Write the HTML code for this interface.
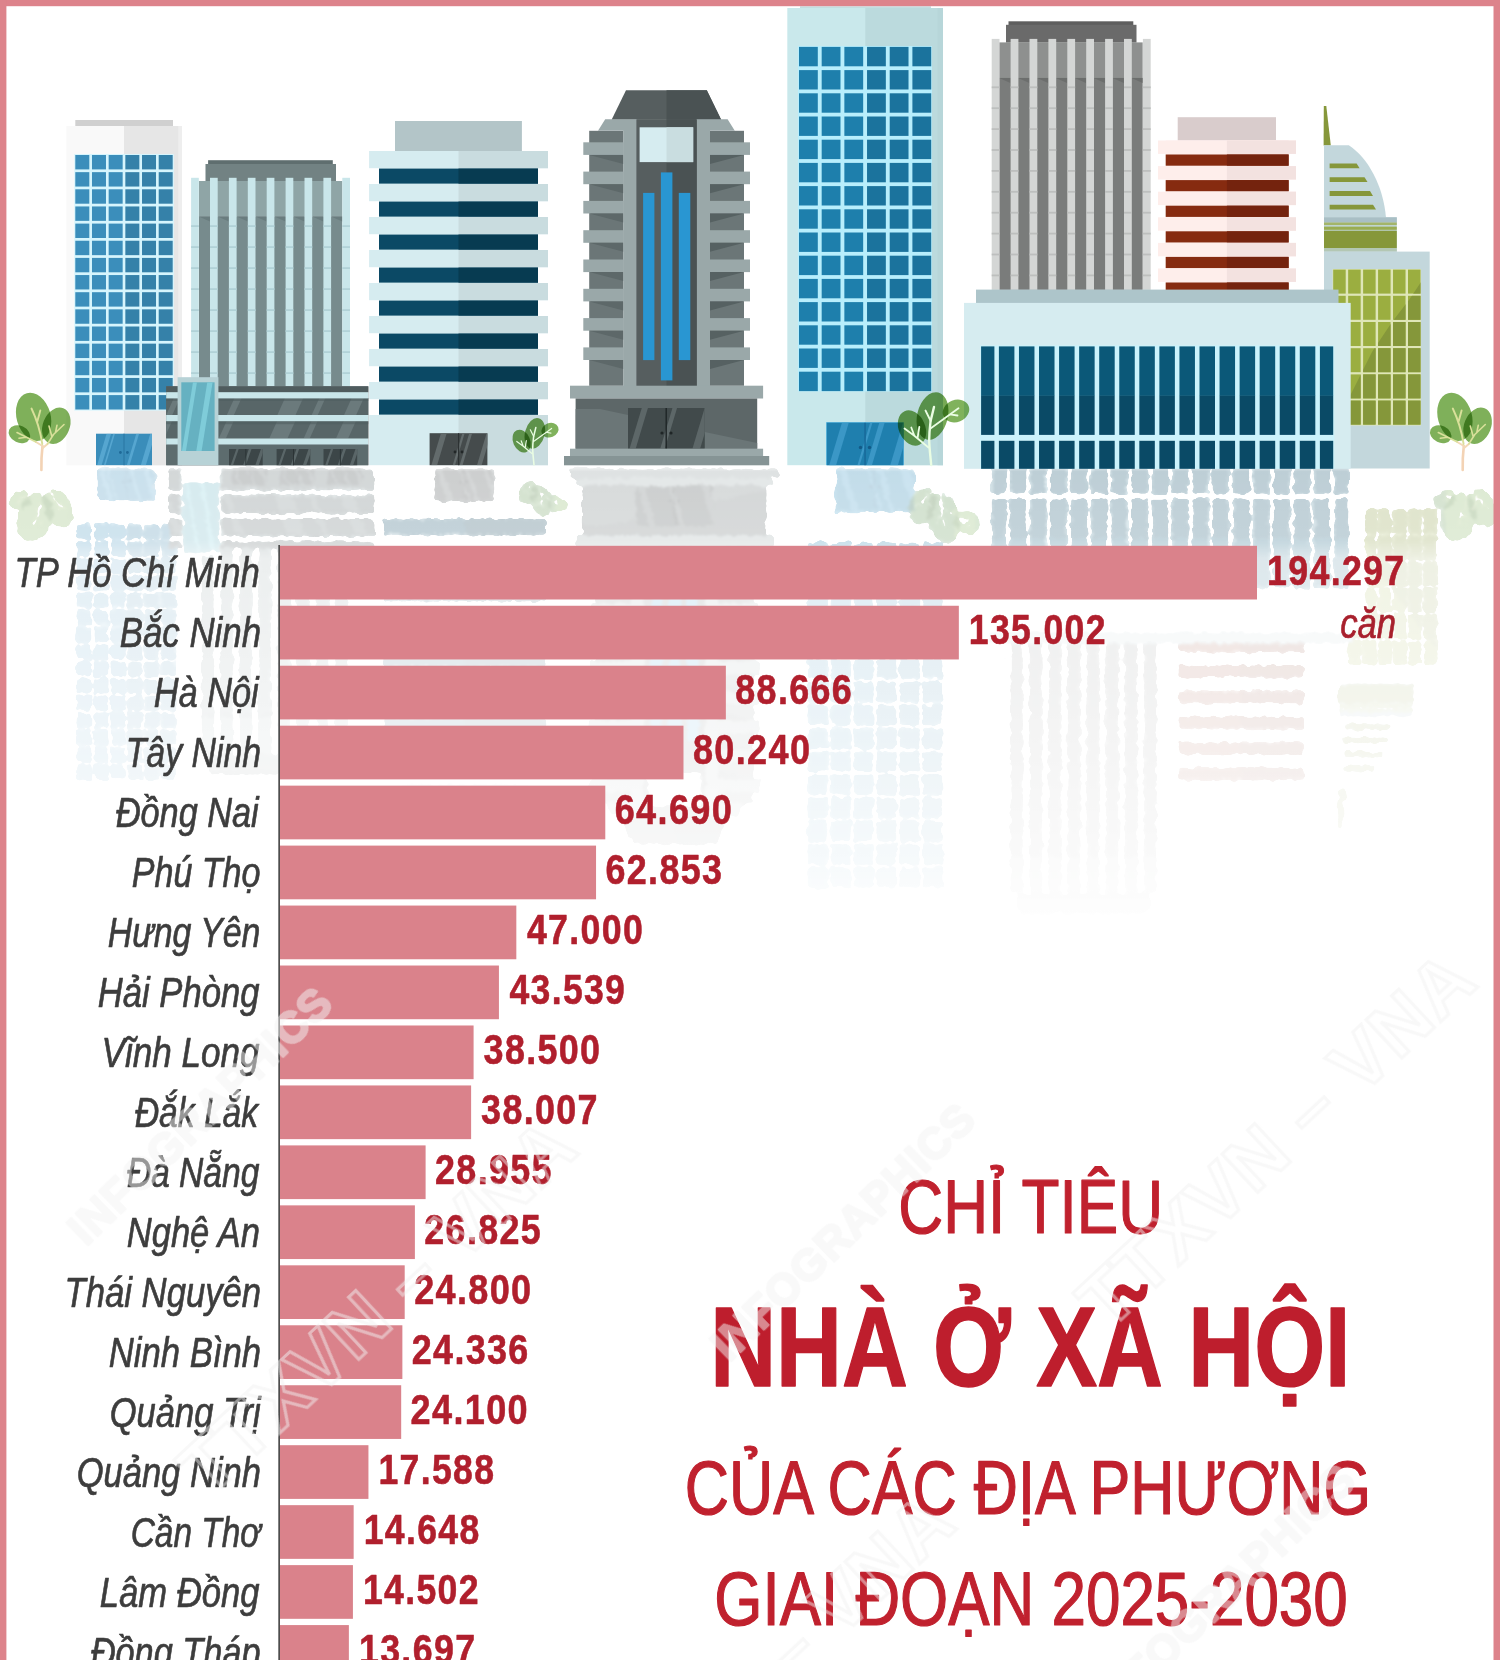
<!DOCTYPE html>
<html lang="vi">
<head>
<meta charset="utf-8">
<title>Chỉ tiêu nhà ở xã hội của các địa phương giai đoạn 2025-2030</title>
<style>
html,body{margin:0;padding:0;background:#fff;}
body{width:1500px;height:1660px;overflow:hidden;position:relative;}
svg{display:block;position:absolute;left:0;top:0;}
text{white-space:pre;}
</style>
</head>
<body>
<svg width="1500" height="1660" viewBox="0 0 1500 1660">
<defs>
<g id="treeA"><g style="mix-blend-mode:multiply" fill="#7fb05a"><ellipse cx="33.6" cy="416.8" rx="17" ry="24.6" transform="rotate(-16 33.6 416.8)"/></g><g style="mix-blend-mode:multiply" fill="#7fb05a"><ellipse cx="56.3" cy="425.8" rx="13.4" ry="18.8" transform="rotate(22 56.3 425.8)"/></g><g style="mix-blend-mode:multiply" fill="#7fb05a"><ellipse cx="19.4" cy="434.2" rx="11.2" ry="8.4" transform="rotate(25 19.4 434.2)"/></g><g fill="none" stroke-linecap="round" stroke-linejoin="round"><path d="M41.4,470 C41.2,460 41.8,452 42.5,446" stroke="#f3d3b5" stroke-width="2.6"/><path d="M42.5,446 L36,442 M42.8,448 L47.5,444" stroke="#f3d9b8" stroke-width="2"/><path d="M42.3,444 C40.5,432 37,420 31.5,408.5 M37.3,421.5 L40.3,410.5" stroke="#d9e09a" stroke-width="1.9"/><path d="M36,442 L17,432.5 M26.5,437.3 L19,438.2" stroke="#d9e09a" stroke-width="1.6"/><path d="M47.5,444 L53.5,434.5 L64,424.5 M52,437 L49,426 M55.5,432.5 L57,425.2" stroke="#d9e09a" stroke-width="1.6"/></g></g><g id="treeB"><g style="mix-blend-mode:multiply" fill="#77a955"><ellipse cx="932.5" cy="416" rx="15.3" ry="24.3" transform="rotate(14 932.5 416)"/></g><g style="mix-blend-mode:multiply" fill="#77a955"><ellipse cx="912" cy="428" rx="13.2" ry="18.4" transform="rotate(-24 912 428)"/></g><g style="mix-blend-mode:multiply" fill="#80b25c"><ellipse cx="956" cy="411" rx="13.6" ry="11" transform="rotate(-22 956 411)"/></g><g fill="none" stroke="#eafde3" stroke-linecap="round" stroke-linejoin="round"><path d="M931.2,465 C930.4,456 929.3,448 929.2,440 C929.2,432 930,426 930.6,421 L934,407" stroke-width="2.4"/><path d="M930.5,428.5 L958.5,408.3 M950,414.3 L957.5,415.5 M930.7,421 L925.5,410.5" stroke-width="1.8"/><path d="M928.5,447.5 L914,435.5 L904.5,428.5 M914.5,436 L911.3,427.5 M917.5,438.5 L919.3,427" stroke-width="1.8"/></g></g>
<g id="cityB"><g><rect x="1008.5" y="21.3" width="124.8" height="3.7" fill="#5e5e5e"/><rect x="1006" y="24.8" width="130.5" height="17.8" fill="#6a6a6a"/><rect x="999.2" y="42.4" width="143.5" height="35.7" fill="#8e908f"/><rect x="999.2" y="77.9" width="143.5" height="212" fill="#7a7c7b"/><polygon points="999.2,77.9 1010.4,77.9 1010.4,83" fill="#6c6e6d"/><polygon points="1018.1,77.9 1029.3,77.9 1029.3,83" fill="#6c6e6d"/><polygon points="1037,77.9 1048.2,77.9 1048.2,83" fill="#6c6e6d"/><polygon points="1055.9,77.9 1067.1,77.9 1067.1,83" fill="#6c6e6d"/><polygon points="1074.8,77.9 1086,77.9 1086,83" fill="#6c6e6d"/><polygon points="1093.7,77.9 1104.9,77.9 1104.9,83" fill="#6c6e6d"/><polygon points="1112.6,77.9 1123.8,77.9 1123.8,83" fill="#6c6e6d"/><polygon points="1131.5,77.9 1142.7,77.9 1142.7,83" fill="#6c6e6d"/><rect x="991.7" y="38.9" width="7.8" height="251" fill="#d4d6d5"/><rect x="991.7" y="86.4" width="7.8" height="1.8" fill="#bdbfbe"/><rect x="991.7" y="107.3" width="7.8" height="1.8" fill="#bdbfbe"/><rect x="991.7" y="128.2" width="7.8" height="1.8" fill="#bdbfbe"/><rect x="991.7" y="149.1" width="7.8" height="1.8" fill="#bdbfbe"/><rect x="991.7" y="170" width="7.8" height="1.8" fill="#bdbfbe"/><rect x="991.7" y="190.9" width="7.8" height="1.8" fill="#bdbfbe"/><rect x="991.7" y="211.8" width="7.8" height="1.8" fill="#bdbfbe"/><rect x="991.7" y="232.7" width="7.8" height="1.8" fill="#bdbfbe"/><rect x="991.7" y="253.6" width="7.8" height="1.8" fill="#bdbfbe"/><rect x="991.7" y="274.5" width="7.8" height="1.8" fill="#bdbfbe"/><rect x="1010.6" y="38.9" width="7.8" height="251" fill="#d4d6d5"/><rect x="1010.6" y="86.4" width="7.8" height="1.8" fill="#bdbfbe"/><rect x="1010.6" y="107.3" width="7.8" height="1.8" fill="#bdbfbe"/><rect x="1010.6" y="128.2" width="7.8" height="1.8" fill="#bdbfbe"/><rect x="1010.6" y="149.1" width="7.8" height="1.8" fill="#bdbfbe"/><rect x="1010.6" y="170" width="7.8" height="1.8" fill="#bdbfbe"/><rect x="1010.6" y="190.9" width="7.8" height="1.8" fill="#bdbfbe"/><rect x="1010.6" y="211.8" width="7.8" height="1.8" fill="#bdbfbe"/><rect x="1010.6" y="232.7" width="7.8" height="1.8" fill="#bdbfbe"/><rect x="1010.6" y="253.6" width="7.8" height="1.8" fill="#bdbfbe"/><rect x="1010.6" y="274.5" width="7.8" height="1.8" fill="#bdbfbe"/><rect x="1029.5" y="38.9" width="7.8" height="251" fill="#d4d6d5"/><rect x="1029.5" y="86.4" width="7.8" height="1.8" fill="#bdbfbe"/><rect x="1029.5" y="107.3" width="7.8" height="1.8" fill="#bdbfbe"/><rect x="1029.5" y="128.2" width="7.8" height="1.8" fill="#bdbfbe"/><rect x="1029.5" y="149.1" width="7.8" height="1.8" fill="#bdbfbe"/><rect x="1029.5" y="170" width="7.8" height="1.8" fill="#bdbfbe"/><rect x="1029.5" y="190.9" width="7.8" height="1.8" fill="#bdbfbe"/><rect x="1029.5" y="211.8" width="7.8" height="1.8" fill="#bdbfbe"/><rect x="1029.5" y="232.7" width="7.8" height="1.8" fill="#bdbfbe"/><rect x="1029.5" y="253.6" width="7.8" height="1.8" fill="#bdbfbe"/><rect x="1029.5" y="274.5" width="7.8" height="1.8" fill="#bdbfbe"/><rect x="1048.4" y="38.9" width="7.8" height="251" fill="#d4d6d5"/><rect x="1048.4" y="86.4" width="7.8" height="1.8" fill="#bdbfbe"/><rect x="1048.4" y="107.3" width="7.8" height="1.8" fill="#bdbfbe"/><rect x="1048.4" y="128.2" width="7.8" height="1.8" fill="#bdbfbe"/><rect x="1048.4" y="149.1" width="7.8" height="1.8" fill="#bdbfbe"/><rect x="1048.4" y="170" width="7.8" height="1.8" fill="#bdbfbe"/><rect x="1048.4" y="190.9" width="7.8" height="1.8" fill="#bdbfbe"/><rect x="1048.4" y="211.8" width="7.8" height="1.8" fill="#bdbfbe"/><rect x="1048.4" y="232.7" width="7.8" height="1.8" fill="#bdbfbe"/><rect x="1048.4" y="253.6" width="7.8" height="1.8" fill="#bdbfbe"/><rect x="1048.4" y="274.5" width="7.8" height="1.8" fill="#bdbfbe"/><rect x="1067.3" y="38.9" width="7.8" height="251" fill="#d4d6d5"/><rect x="1067.3" y="86.4" width="7.8" height="1.8" fill="#bdbfbe"/><rect x="1067.3" y="107.3" width="7.8" height="1.8" fill="#bdbfbe"/><rect x="1067.3" y="128.2" width="7.8" height="1.8" fill="#bdbfbe"/><rect x="1067.3" y="149.1" width="7.8" height="1.8" fill="#bdbfbe"/><rect x="1067.3" y="170" width="7.8" height="1.8" fill="#bdbfbe"/><rect x="1067.3" y="190.9" width="7.8" height="1.8" fill="#bdbfbe"/><rect x="1067.3" y="211.8" width="7.8" height="1.8" fill="#bdbfbe"/><rect x="1067.3" y="232.7" width="7.8" height="1.8" fill="#bdbfbe"/><rect x="1067.3" y="253.6" width="7.8" height="1.8" fill="#bdbfbe"/><rect x="1067.3" y="274.5" width="7.8" height="1.8" fill="#bdbfbe"/><rect x="1086.2" y="38.9" width="7.8" height="251" fill="#d4d6d5"/><rect x="1086.2" y="86.4" width="7.8" height="1.8" fill="#bdbfbe"/><rect x="1086.2" y="107.3" width="7.8" height="1.8" fill="#bdbfbe"/><rect x="1086.2" y="128.2" width="7.8" height="1.8" fill="#bdbfbe"/><rect x="1086.2" y="149.1" width="7.8" height="1.8" fill="#bdbfbe"/><rect x="1086.2" y="170" width="7.8" height="1.8" fill="#bdbfbe"/><rect x="1086.2" y="190.9" width="7.8" height="1.8" fill="#bdbfbe"/><rect x="1086.2" y="211.8" width="7.8" height="1.8" fill="#bdbfbe"/><rect x="1086.2" y="232.7" width="7.8" height="1.8" fill="#bdbfbe"/><rect x="1086.2" y="253.6" width="7.8" height="1.8" fill="#bdbfbe"/><rect x="1086.2" y="274.5" width="7.8" height="1.8" fill="#bdbfbe"/><rect x="1105.1" y="38.9" width="7.8" height="251" fill="#d4d6d5"/><rect x="1105.1" y="86.4" width="7.8" height="1.8" fill="#bdbfbe"/><rect x="1105.1" y="107.3" width="7.8" height="1.8" fill="#bdbfbe"/><rect x="1105.1" y="128.2" width="7.8" height="1.8" fill="#bdbfbe"/><rect x="1105.1" y="149.1" width="7.8" height="1.8" fill="#bdbfbe"/><rect x="1105.1" y="170" width="7.8" height="1.8" fill="#bdbfbe"/><rect x="1105.1" y="190.9" width="7.8" height="1.8" fill="#bdbfbe"/><rect x="1105.1" y="211.8" width="7.8" height="1.8" fill="#bdbfbe"/><rect x="1105.1" y="232.7" width="7.8" height="1.8" fill="#bdbfbe"/><rect x="1105.1" y="253.6" width="7.8" height="1.8" fill="#bdbfbe"/><rect x="1105.1" y="274.5" width="7.8" height="1.8" fill="#bdbfbe"/><rect x="1124" y="38.9" width="7.8" height="251" fill="#d4d6d5"/><rect x="1124" y="86.4" width="7.8" height="1.8" fill="#bdbfbe"/><rect x="1124" y="107.3" width="7.8" height="1.8" fill="#bdbfbe"/><rect x="1124" y="128.2" width="7.8" height="1.8" fill="#bdbfbe"/><rect x="1124" y="149.1" width="7.8" height="1.8" fill="#bdbfbe"/><rect x="1124" y="170" width="7.8" height="1.8" fill="#bdbfbe"/><rect x="1124" y="190.9" width="7.8" height="1.8" fill="#bdbfbe"/><rect x="1124" y="211.8" width="7.8" height="1.8" fill="#bdbfbe"/><rect x="1124" y="232.7" width="7.8" height="1.8" fill="#bdbfbe"/><rect x="1124" y="253.6" width="7.8" height="1.8" fill="#bdbfbe"/><rect x="1124" y="274.5" width="7.8" height="1.8" fill="#bdbfbe"/><rect x="1142.9" y="38.9" width="7.8" height="251" fill="#d4d6d5"/><rect x="1142.9" y="86.4" width="7.8" height="1.8" fill="#bdbfbe"/><rect x="1142.9" y="107.3" width="7.8" height="1.8" fill="#bdbfbe"/><rect x="1142.9" y="128.2" width="7.8" height="1.8" fill="#bdbfbe"/><rect x="1142.9" y="149.1" width="7.8" height="1.8" fill="#bdbfbe"/><rect x="1142.9" y="170" width="7.8" height="1.8" fill="#bdbfbe"/><rect x="1142.9" y="190.9" width="7.8" height="1.8" fill="#bdbfbe"/><rect x="1142.9" y="211.8" width="7.8" height="1.8" fill="#bdbfbe"/><rect x="1142.9" y="232.7" width="7.8" height="1.8" fill="#bdbfbe"/><rect x="1142.9" y="253.6" width="7.8" height="1.8" fill="#bdbfbe"/><rect x="1142.9" y="274.5" width="7.8" height="1.8" fill="#bdbfbe"/></g><g><rect x="1177.7" y="117.2" width="98.3" height="23.5" fill="#d9cccc"/><rect x="1165.7" y="140.5" width="122.9" height="150" fill="#fff0ed"/><rect x="1226.9" y="140.5" width="61.7" height="150" fill="#f4e3e1"/><rect x="1158" y="140.5" width="138" height="13.4" fill="#feeeeb"/><rect x="1226.9" y="140.5" width="69.1" height="13.4" fill="#f3e2e0"/><rect x="1165.7" y="154.5" width="122.9" height="11.2" fill="#862b10"/><rect x="1226.9" y="154.5" width="61.7" height="11.2" fill="#74230e"/><rect x="1158" y="166.1" width="138" height="13.4" fill="#feeeeb"/><rect x="1226.9" y="166.1" width="69.1" height="13.4" fill="#f3e2e0"/><rect x="1165.7" y="180.1" width="122.9" height="11.2" fill="#862b10"/><rect x="1226.9" y="180.1" width="61.7" height="11.2" fill="#74230e"/><rect x="1158" y="191.7" width="138" height="13.4" fill="#feeeeb"/><rect x="1226.9" y="191.7" width="69.1" height="13.4" fill="#f3e2e0"/><rect x="1165.7" y="205.7" width="122.9" height="11.2" fill="#862b10"/><rect x="1226.9" y="205.7" width="61.7" height="11.2" fill="#74230e"/><rect x="1158" y="217.3" width="138" height="13.4" fill="#feeeeb"/><rect x="1226.9" y="217.3" width="69.1" height="13.4" fill="#f3e2e0"/><rect x="1165.7" y="231.3" width="122.9" height="11.2" fill="#862b10"/><rect x="1226.9" y="231.3" width="61.7" height="11.2" fill="#74230e"/><rect x="1158" y="242.9" width="138" height="13.4" fill="#feeeeb"/><rect x="1226.9" y="242.9" width="69.1" height="13.4" fill="#f3e2e0"/><rect x="1165.7" y="256.9" width="122.9" height="11.2" fill="#862b10"/><rect x="1226.9" y="256.9" width="61.7" height="11.2" fill="#74230e"/><rect x="1158" y="268.5" width="138" height="13.4" fill="#feeeeb"/><rect x="1226.9" y="268.5" width="69.1" height="13.4" fill="#f3e2e0"/><rect x="1165.7" y="282.5" width="122.9" height="11.2" fill="#862b10"/><rect x="1226.9" y="282.5" width="61.7" height="11.2" fill="#74230e"/></g></g><g id="city"><g><rect x="75.3" y="120" width="97.7" height="6.2" fill="#d0d0d0"/><rect x="66.3" y="126" width="115.7" height="339.3" fill="#f9f9f9"/><rect x="124" y="126" width="58" height="339.3" fill="#e6e6e6"/><rect x="178.2" y="126" width="3.8" height="339.3" fill="#eeeeee"/><rect x="74.3" y="154" width="99.6" height="256.6" fill="#d6f5fd"/><rect x="75.3" y="155" width="14" height="14.4" fill="#3b8ebb"/><rect x="91.98" y="155" width="14" height="14.4" fill="#3b8ebb"/><rect x="108.66" y="155" width="14" height="14.4" fill="#3b8ebb"/><rect x="125.34" y="155" width="14" height="14.4" fill="#3581a9"/><rect x="142.02" y="155" width="14" height="14.4" fill="#3581a9"/><rect x="158.7" y="155" width="14" height="14.4" fill="#3581a9"/><rect x="75.3" y="172.15" width="14" height="14.4" fill="#3b8ebb"/><rect x="91.98" y="172.15" width="14" height="14.4" fill="#3b8ebb"/><rect x="108.66" y="172.15" width="14" height="14.4" fill="#3b8ebb"/><rect x="125.34" y="172.15" width="14" height="14.4" fill="#3581a9"/><rect x="142.02" y="172.15" width="14" height="14.4" fill="#3581a9"/><rect x="158.7" y="172.15" width="14" height="14.4" fill="#3581a9"/><rect x="75.3" y="189.3" width="14" height="14.4" fill="#3b8ebb"/><rect x="91.98" y="189.3" width="14" height="14.4" fill="#3b8ebb"/><rect x="108.66" y="189.3" width="14" height="14.4" fill="#3b8ebb"/><rect x="125.34" y="189.3" width="14" height="14.4" fill="#3581a9"/><rect x="142.02" y="189.3" width="14" height="14.4" fill="#3581a9"/><rect x="158.7" y="189.3" width="14" height="14.4" fill="#3581a9"/><rect x="75.3" y="206.45" width="14" height="14.4" fill="#3b8ebb"/><rect x="91.98" y="206.45" width="14" height="14.4" fill="#3b8ebb"/><rect x="108.66" y="206.45" width="14" height="14.4" fill="#3b8ebb"/><rect x="125.34" y="206.45" width="14" height="14.4" fill="#3581a9"/><rect x="142.02" y="206.45" width="14" height="14.4" fill="#3581a9"/><rect x="158.7" y="206.45" width="14" height="14.4" fill="#3581a9"/><rect x="75.3" y="223.6" width="14" height="14.4" fill="#3b8ebb"/><rect x="91.98" y="223.6" width="14" height="14.4" fill="#3b8ebb"/><rect x="108.66" y="223.6" width="14" height="14.4" fill="#3b8ebb"/><rect x="125.34" y="223.6" width="14" height="14.4" fill="#3581a9"/><rect x="142.02" y="223.6" width="14" height="14.4" fill="#3581a9"/><rect x="158.7" y="223.6" width="14" height="14.4" fill="#3581a9"/><rect x="75.3" y="240.75" width="14" height="14.4" fill="#3b8ebb"/><rect x="91.98" y="240.75" width="14" height="14.4" fill="#3b8ebb"/><rect x="108.66" y="240.75" width="14" height="14.4" fill="#3b8ebb"/><rect x="125.34" y="240.75" width="14" height="14.4" fill="#3581a9"/><rect x="142.02" y="240.75" width="14" height="14.4" fill="#3581a9"/><rect x="158.7" y="240.75" width="14" height="14.4" fill="#3581a9"/><rect x="75.3" y="257.9" width="14" height="14.4" fill="#3b8ebb"/><rect x="91.98" y="257.9" width="14" height="14.4" fill="#3b8ebb"/><rect x="108.66" y="257.9" width="14" height="14.4" fill="#3b8ebb"/><rect x="125.34" y="257.9" width="14" height="14.4" fill="#3581a9"/><rect x="142.02" y="257.9" width="14" height="14.4" fill="#3581a9"/><rect x="158.7" y="257.9" width="14" height="14.4" fill="#3581a9"/><rect x="75.3" y="275.05" width="14" height="14.4" fill="#3b8ebb"/><rect x="91.98" y="275.05" width="14" height="14.4" fill="#3b8ebb"/><rect x="108.66" y="275.05" width="14" height="14.4" fill="#3b8ebb"/><rect x="125.34" y="275.05" width="14" height="14.4" fill="#3581a9"/><rect x="142.02" y="275.05" width="14" height="14.4" fill="#3581a9"/><rect x="158.7" y="275.05" width="14" height="14.4" fill="#3581a9"/><rect x="75.3" y="292.2" width="14" height="14.4" fill="#3b8ebb"/><rect x="91.98" y="292.2" width="14" height="14.4" fill="#3b8ebb"/><rect x="108.66" y="292.2" width="14" height="14.4" fill="#3b8ebb"/><rect x="125.34" y="292.2" width="14" height="14.4" fill="#3581a9"/><rect x="142.02" y="292.2" width="14" height="14.4" fill="#3581a9"/><rect x="158.7" y="292.2" width="14" height="14.4" fill="#3581a9"/><rect x="75.3" y="309.35" width="14" height="14.4" fill="#3b8ebb"/><rect x="91.98" y="309.35" width="14" height="14.4" fill="#3b8ebb"/><rect x="108.66" y="309.35" width="14" height="14.4" fill="#3b8ebb"/><rect x="125.34" y="309.35" width="14" height="14.4" fill="#3581a9"/><rect x="142.02" y="309.35" width="14" height="14.4" fill="#3581a9"/><rect x="158.7" y="309.35" width="14" height="14.4" fill="#3581a9"/><rect x="75.3" y="326.5" width="14" height="14.4" fill="#3b8ebb"/><rect x="91.98" y="326.5" width="14" height="14.4" fill="#3b8ebb"/><rect x="108.66" y="326.5" width="14" height="14.4" fill="#3b8ebb"/><rect x="125.34" y="326.5" width="14" height="14.4" fill="#3581a9"/><rect x="142.02" y="326.5" width="14" height="14.4" fill="#3581a9"/><rect x="158.7" y="326.5" width="14" height="14.4" fill="#3581a9"/><rect x="75.3" y="343.65" width="14" height="14.4" fill="#3b8ebb"/><rect x="91.98" y="343.65" width="14" height="14.4" fill="#3b8ebb"/><rect x="108.66" y="343.65" width="14" height="14.4" fill="#3b8ebb"/><rect x="125.34" y="343.65" width="14" height="14.4" fill="#3581a9"/><rect x="142.02" y="343.65" width="14" height="14.4" fill="#3581a9"/><rect x="158.7" y="343.65" width="14" height="14.4" fill="#3581a9"/><rect x="75.3" y="360.8" width="14" height="14.4" fill="#3b8ebb"/><rect x="91.98" y="360.8" width="14" height="14.4" fill="#3b8ebb"/><rect x="108.66" y="360.8" width="14" height="14.4" fill="#3b8ebb"/><rect x="125.34" y="360.8" width="14" height="14.4" fill="#3581a9"/><rect x="142.02" y="360.8" width="14" height="14.4" fill="#3581a9"/><rect x="158.7" y="360.8" width="14" height="14.4" fill="#3581a9"/><rect x="75.3" y="377.95" width="14" height="14.4" fill="#3b8ebb"/><rect x="91.98" y="377.95" width="14" height="14.4" fill="#3b8ebb"/><rect x="108.66" y="377.95" width="14" height="14.4" fill="#3b8ebb"/><rect x="125.34" y="377.95" width="14" height="14.4" fill="#3581a9"/><rect x="142.02" y="377.95" width="14" height="14.4" fill="#3581a9"/><rect x="158.7" y="377.95" width="14" height="14.4" fill="#3581a9"/><rect x="75.3" y="395.1" width="14" height="14.4" fill="#3b8ebb"/><rect x="91.98" y="395.1" width="14" height="14.4" fill="#3b8ebb"/><rect x="108.66" y="395.1" width="14" height="14.4" fill="#3b8ebb"/><rect x="125.34" y="395.1" width="14" height="14.4" fill="#3581a9"/><rect x="142.02" y="395.1" width="14" height="14.4" fill="#3581a9"/><rect x="158.7" y="395.1" width="14" height="14.4" fill="#3581a9"/><clipPath id="gc1"><rect x="96" y="433.7" width="56" height="31.5"/></clipPath><rect x="96" y="433.7" width="56" height="31.5" fill="#3a8dba"/><g clip-path="url(#gc1)" fill="#56a6d0" opacity="1"><polygon points="97.12,465.2 101.6,465.2 111.05,433.7 106.57,433.7"/><polygon points="103.84,465.2 105.52,465.2 114.97,433.7 113.29,433.7"/><polygon points="126.8,465.2 129.6,465.2 139.05,433.7 136.25,433.7"/><polygon points="140.8,465.2 145.84,465.2 155.29,433.7 150.25,433.7"/></g><rect x="123.4" y="433.7" width="1.2" height="31.5" fill="#2c79a6"/><circle cx="120.4" cy="452.5" r="1.4" fill="#1f6a98"/><circle cx="127.4" cy="452.5" r="1.4" fill="#1f6a98"/></g><g><rect x="208.1" y="160.2" width="124.7" height="4.2" fill="#5f6e6f"/><rect x="205.5" y="164" width="130.5" height="17.2" fill="#728283"/><rect x="198.9" y="181" width="143.4" height="35.8" fill="#8fa5a6"/><rect x="198.9" y="216.6" width="143.4" height="170" fill="#778b8d"/><polygon points="198.7,216.6 210,216.6 210,221.5" fill="#6a7d7f"/><polygon points="217.6,216.6 228.9,216.6 228.9,221.5" fill="#6a7d7f"/><polygon points="236.5,216.6 247.8,216.6 247.8,221.5" fill="#6a7d7f"/><polygon points="255.4,216.6 266.7,216.6 266.7,221.5" fill="#6a7d7f"/><polygon points="274.3,216.6 285.6,216.6 285.6,221.5" fill="#6a7d7f"/><polygon points="293.2,216.6 304.5,216.6 304.5,221.5" fill="#6a7d7f"/><polygon points="312.1,216.6 323.4,216.6 323.4,221.5" fill="#6a7d7f"/><polygon points="331,216.6 342.3,216.6 342.3,221.5" fill="#6a7d7f"/><rect x="191.1" y="177.8" width="7.7" height="208.6" fill="#c9e6ea"/><rect x="191.1" y="225.2" width="7.7" height="1.8" fill="#b1d2d7"/><rect x="191.1" y="246.2" width="7.7" height="1.8" fill="#b1d2d7"/><rect x="191.1" y="267.2" width="7.7" height="1.8" fill="#b1d2d7"/><rect x="191.1" y="288.2" width="7.7" height="1.8" fill="#b1d2d7"/><rect x="191.1" y="309.2" width="7.7" height="1.8" fill="#b1d2d7"/><rect x="191.1" y="330.2" width="7.7" height="1.8" fill="#b1d2d7"/><rect x="191.1" y="351.2" width="7.7" height="1.8" fill="#b1d2d7"/><rect x="191.1" y="372.2" width="7.7" height="1.8" fill="#b1d2d7"/><rect x="210" y="177.8" width="7.7" height="208.6" fill="#c9e6ea"/><rect x="210" y="225.2" width="7.7" height="1.8" fill="#b1d2d7"/><rect x="210" y="246.2" width="7.7" height="1.8" fill="#b1d2d7"/><rect x="210" y="267.2" width="7.7" height="1.8" fill="#b1d2d7"/><rect x="210" y="288.2" width="7.7" height="1.8" fill="#b1d2d7"/><rect x="210" y="309.2" width="7.7" height="1.8" fill="#b1d2d7"/><rect x="210" y="330.2" width="7.7" height="1.8" fill="#b1d2d7"/><rect x="210" y="351.2" width="7.7" height="1.8" fill="#b1d2d7"/><rect x="210" y="372.2" width="7.7" height="1.8" fill="#b1d2d7"/><rect x="228.9" y="177.8" width="7.7" height="208.6" fill="#c9e6ea"/><rect x="228.9" y="225.2" width="7.7" height="1.8" fill="#b1d2d7"/><rect x="228.9" y="246.2" width="7.7" height="1.8" fill="#b1d2d7"/><rect x="228.9" y="267.2" width="7.7" height="1.8" fill="#b1d2d7"/><rect x="228.9" y="288.2" width="7.7" height="1.8" fill="#b1d2d7"/><rect x="228.9" y="309.2" width="7.7" height="1.8" fill="#b1d2d7"/><rect x="228.9" y="330.2" width="7.7" height="1.8" fill="#b1d2d7"/><rect x="228.9" y="351.2" width="7.7" height="1.8" fill="#b1d2d7"/><rect x="228.9" y="372.2" width="7.7" height="1.8" fill="#b1d2d7"/><rect x="247.8" y="177.8" width="7.7" height="208.6" fill="#c9e6ea"/><rect x="247.8" y="225.2" width="7.7" height="1.8" fill="#b1d2d7"/><rect x="247.8" y="246.2" width="7.7" height="1.8" fill="#b1d2d7"/><rect x="247.8" y="267.2" width="7.7" height="1.8" fill="#b1d2d7"/><rect x="247.8" y="288.2" width="7.7" height="1.8" fill="#b1d2d7"/><rect x="247.8" y="309.2" width="7.7" height="1.8" fill="#b1d2d7"/><rect x="247.8" y="330.2" width="7.7" height="1.8" fill="#b1d2d7"/><rect x="247.8" y="351.2" width="7.7" height="1.8" fill="#b1d2d7"/><rect x="247.8" y="372.2" width="7.7" height="1.8" fill="#b1d2d7"/><rect x="266.7" y="177.8" width="7.7" height="208.6" fill="#c9e6ea"/><rect x="266.7" y="225.2" width="7.7" height="1.8" fill="#b1d2d7"/><rect x="266.7" y="246.2" width="7.7" height="1.8" fill="#b1d2d7"/><rect x="266.7" y="267.2" width="7.7" height="1.8" fill="#b1d2d7"/><rect x="266.7" y="288.2" width="7.7" height="1.8" fill="#b1d2d7"/><rect x="266.7" y="309.2" width="7.7" height="1.8" fill="#b1d2d7"/><rect x="266.7" y="330.2" width="7.7" height="1.8" fill="#b1d2d7"/><rect x="266.7" y="351.2" width="7.7" height="1.8" fill="#b1d2d7"/><rect x="266.7" y="372.2" width="7.7" height="1.8" fill="#b1d2d7"/><rect x="285.6" y="177.8" width="7.7" height="208.6" fill="#c9e6ea"/><rect x="285.6" y="225.2" width="7.7" height="1.8" fill="#b1d2d7"/><rect x="285.6" y="246.2" width="7.7" height="1.8" fill="#b1d2d7"/><rect x="285.6" y="267.2" width="7.7" height="1.8" fill="#b1d2d7"/><rect x="285.6" y="288.2" width="7.7" height="1.8" fill="#b1d2d7"/><rect x="285.6" y="309.2" width="7.7" height="1.8" fill="#b1d2d7"/><rect x="285.6" y="330.2" width="7.7" height="1.8" fill="#b1d2d7"/><rect x="285.6" y="351.2" width="7.7" height="1.8" fill="#b1d2d7"/><rect x="285.6" y="372.2" width="7.7" height="1.8" fill="#b1d2d7"/><rect x="304.5" y="177.8" width="7.7" height="208.6" fill="#c9e6ea"/><rect x="304.5" y="225.2" width="7.7" height="1.8" fill="#b1d2d7"/><rect x="304.5" y="246.2" width="7.7" height="1.8" fill="#b1d2d7"/><rect x="304.5" y="267.2" width="7.7" height="1.8" fill="#b1d2d7"/><rect x="304.5" y="288.2" width="7.7" height="1.8" fill="#b1d2d7"/><rect x="304.5" y="309.2" width="7.7" height="1.8" fill="#b1d2d7"/><rect x="304.5" y="330.2" width="7.7" height="1.8" fill="#b1d2d7"/><rect x="304.5" y="351.2" width="7.7" height="1.8" fill="#b1d2d7"/><rect x="304.5" y="372.2" width="7.7" height="1.8" fill="#b1d2d7"/><rect x="323.4" y="177.8" width="7.7" height="208.6" fill="#c9e6ea"/><rect x="323.4" y="225.2" width="7.7" height="1.8" fill="#b1d2d7"/><rect x="323.4" y="246.2" width="7.7" height="1.8" fill="#b1d2d7"/><rect x="323.4" y="267.2" width="7.7" height="1.8" fill="#b1d2d7"/><rect x="323.4" y="288.2" width="7.7" height="1.8" fill="#b1d2d7"/><rect x="323.4" y="309.2" width="7.7" height="1.8" fill="#b1d2d7"/><rect x="323.4" y="330.2" width="7.7" height="1.8" fill="#b1d2d7"/><rect x="323.4" y="351.2" width="7.7" height="1.8" fill="#b1d2d7"/><rect x="323.4" y="372.2" width="7.7" height="1.8" fill="#b1d2d7"/><rect x="342.3" y="177.8" width="7.7" height="208.6" fill="#c9e6ea"/><rect x="342.3" y="225.2" width="7.7" height="1.8" fill="#b1d2d7"/><rect x="342.3" y="246.2" width="7.7" height="1.8" fill="#b1d2d7"/><rect x="342.3" y="267.2" width="7.7" height="1.8" fill="#b1d2d7"/><rect x="342.3" y="288.2" width="7.7" height="1.8" fill="#b1d2d7"/><rect x="342.3" y="309.2" width="7.7" height="1.8" fill="#b1d2d7"/><rect x="342.3" y="330.2" width="7.7" height="1.8" fill="#b1d2d7"/><rect x="342.3" y="351.2" width="7.7" height="1.8" fill="#b1d2d7"/><rect x="342.3" y="372.2" width="7.7" height="1.8" fill="#b1d2d7"/></g><g><rect x="166.2" y="386.3" width="202.1" height="78.9" fill="#5d6c6e"/><rect x="166.2" y="386.3" width="202.1" height="6" fill="#4f5c5e"/><clipPath id="gc2"><rect x="166.2" y="398" width="202.1" height="17"/></clipPath><rect x="166.2" y="398" width="202.1" height="17" fill="#586668"/><g clip-path="url(#gc2)" fill="#6b7a7c" opacity="1"><polygon points="166.2,415 172.26,415 179.91,398 173.85,398"/><polygon points="226.83,415 233.9,415 241.55,398 234.48,398"/><polygon points="277.36,415 295.54,415 303.19,398 285,398"/><polygon points="311.71,415 317.77,415 325.42,398 319.36,398"/><polygon points="344.05,415 356.17,415 363.82,398 351.7,398"/></g><rect x="166.2" y="398" width="202.1" height="3" fill="#4f5c5e" opacity="0.55"/><clipPath id="gc3"><rect x="166.2" y="421.2" width="202.1" height="17.3"/></clipPath><rect x="166.2" y="421.2" width="202.1" height="17.3" fill="#586668"/><g clip-path="url(#gc3)" fill="#6b7a7c" opacity="1"><polygon points="158.12,438.5 164.18,438.5 171.96,421.2 165.9,421.2"/><polygon points="218.75,438.5 225.82,438.5 233.6,421.2 226.53,421.2"/><polygon points="269.27,438.5 287.46,438.5 295.25,421.2 277.06,421.2"/><polygon points="303.63,438.5 309.69,438.5 317.48,421.2 311.41,421.2"/><polygon points="335.96,438.5 348.09,438.5 355.87,421.2 343.75,421.2"/></g><rect x="166.2" y="421.2" width="202.1" height="3" fill="#4f5c5e" opacity="0.55"/><rect x="166.2" y="392.2" width="202.1" height="6.2" fill="#c9e6ea"/><rect x="166.2" y="415" width="202.1" height="6.2" fill="#c9e6ea"/><rect x="166.2" y="438.5" width="202.1" height="6.2" fill="#c9e6ea"/><rect x="166.2" y="444.7" width="202.1" height="20.5" fill="#5d6c6e"/><clipPath id="gc4"><rect x="229" y="449" width="33.7" height="16.2"/></clipPath><rect x="229" y="449" width="33.7" height="16.2" fill="#3c4648"/><g clip-path="url(#gc4)" fill="#5a6668" opacity="1"><polygon points="230.69,465.2 233.04,465.2 238.71,449 236.35,449"/><polygon points="243.15,465.2 245.85,465.2 251.52,449 248.82,449"/><polygon points="255.29,465.2 258.66,465.2 264.33,449 260.96,449"/></g><rect x="245.4" y="449" width="0.9" height="16.2" fill="#2a3234"/><clipPath id="gc5"><rect x="276.6" y="449" width="33.7" height="16.2"/></clipPath><rect x="276.6" y="449" width="33.7" height="16.2" fill="#3c4648"/><g clip-path="url(#gc5)" fill="#5a6668" opacity="1"><polygon points="278.29,465.2 280.64,465.2 286.31,449 283.96,449"/><polygon points="290.75,465.2 293.45,465.2 299.12,449 296.42,449"/><polygon points="302.89,465.2 306.26,465.2 311.93,449 308.56,449"/></g><rect x="293" y="449" width="0.9" height="16.2" fill="#2a3234"/><clipPath id="gc6"><rect x="323.5" y="449" width="33.7" height="16.2"/></clipPath><rect x="323.5" y="449" width="33.7" height="16.2" fill="#3c4648"/><g clip-path="url(#gc6)" fill="#5a6668" opacity="1"><polygon points="325.19,465.2 327.54,465.2 333.21,449 330.86,449"/><polygon points="337.65,465.2 340.35,465.2 346.02,449 343.32,449"/><polygon points="349.79,465.2 353.16,465.2 358.83,449 355.46,449"/></g><rect x="339.9" y="449" width="0.9" height="16.2" fill="#2a3234"/><rect x="177.6" y="377.2" width="40.8" height="88" fill="#b7d2d6"/><clipPath id="gc7"><rect x="181.3" y="382.3" width="33.3" height="68.7"/></clipPath><rect x="181.3" y="382.3" width="33.3" height="68.7" fill="#66b1c1"/><g clip-path="url(#gc7)" fill="#7fccd9" opacity="1"><polygon points="181.97,451 185.96,451 196.95,382.3 192.96,382.3"/><polygon points="196.29,451 201.61,451 212.61,382.3 207.28,382.3"/></g></g><g><rect x="395" y="121" width="126.9" height="30.2" fill="#b3c5c8"/><rect x="379" y="151" width="159" height="314" fill="#d6ecf0"/><rect x="458.5" y="151" width="79.5" height="314" fill="#c9dcdf"/><rect x="369.1" y="151" width="178.9" height="17.2" fill="#d6ecf0"/><rect x="458.5" y="151" width="89.5" height="17.2" fill="#c9dcdf"/><rect x="379" y="168.6" width="159" height="15" fill="#0b4965"/><rect x="458.5" y="168.6" width="79.5" height="15" fill="#073b51"/><rect x="369.1" y="184" width="178.9" height="17.2" fill="#d6ecf0"/><rect x="458.5" y="184" width="89.5" height="17.2" fill="#c9dcdf"/><rect x="379" y="201.6" width="159" height="15" fill="#0b4965"/><rect x="458.5" y="201.6" width="79.5" height="15" fill="#073b51"/><rect x="369.1" y="217" width="178.9" height="17.2" fill="#d6ecf0"/><rect x="458.5" y="217" width="89.5" height="17.2" fill="#c9dcdf"/><rect x="379" y="234.6" width="159" height="15" fill="#0b4965"/><rect x="458.5" y="234.6" width="79.5" height="15" fill="#073b51"/><rect x="369.1" y="250" width="178.9" height="17.2" fill="#d6ecf0"/><rect x="458.5" y="250" width="89.5" height="17.2" fill="#c9dcdf"/><rect x="379" y="267.6" width="159" height="15" fill="#0b4965"/><rect x="458.5" y="267.6" width="79.5" height="15" fill="#073b51"/><rect x="369.1" y="283" width="178.9" height="17.2" fill="#d6ecf0"/><rect x="458.5" y="283" width="89.5" height="17.2" fill="#c9dcdf"/><rect x="379" y="300.6" width="159" height="15" fill="#0b4965"/><rect x="458.5" y="300.6" width="79.5" height="15" fill="#073b51"/><rect x="369.1" y="316" width="178.9" height="17.2" fill="#d6ecf0"/><rect x="458.5" y="316" width="89.5" height="17.2" fill="#c9dcdf"/><rect x="379" y="333.6" width="159" height="15" fill="#0b4965"/><rect x="458.5" y="333.6" width="79.5" height="15" fill="#073b51"/><rect x="369.1" y="349" width="178.9" height="17.2" fill="#d6ecf0"/><rect x="458.5" y="349" width="89.5" height="17.2" fill="#c9dcdf"/><rect x="379" y="366.6" width="159" height="15" fill="#0b4965"/><rect x="458.5" y="366.6" width="79.5" height="15" fill="#073b51"/><rect x="369.1" y="382" width="178.9" height="17.2" fill="#d6ecf0"/><rect x="458.5" y="382" width="89.5" height="17.2" fill="#c9dcdf"/><rect x="379" y="399.6" width="159" height="15" fill="#0b4965"/><rect x="458.5" y="399.6" width="79.5" height="15" fill="#073b51"/><rect x="369.1" y="415" width="178.9" height="50.2" fill="#d6ecf0"/><rect x="458.5" y="415" width="89.5" height="50.2" fill="#c9dcdf"/><clipPath id="gc8"><rect x="429.6" y="433.2" width="57.8" height="32"/></clipPath><rect x="429.6" y="433.2" width="57.8" height="32" fill="#454b4c"/><g clip-path="url(#gc8)" fill="#636b6c" opacity="1"><polygon points="431.33,465.2 437.11,465.2 446.71,433.2 440.93,433.2"/><polygon points="452.72,465.2 455.03,465.2 464.63,433.2 462.32,433.2"/><polygon points="459.66,465.2 462.55,465.2 472.15,433.2 469.26,433.2"/><polygon points="477,465.2 481.62,465.2 491.22,433.2 486.6,433.2"/></g><rect x="458" y="433.2" width="1.2" height="32" fill="#2d3233"/><circle cx="455" cy="452" r="1.4" fill="#222728"/><circle cx="462" cy="452" r="1.4" fill="#222728"/></g><g><polygon points="626,90.3 706.8,90.3 721.2,119.8 611.6,119.8" fill="#565e5f"/><polygon points="666.5,90.3 706.8,90.3 721.2,119.8 666.5,119.8" fill="#4a5253"/><rect x="589.2" y="130.8" width="34.2" height="255" fill="#6b7677"/><rect x="710" y="130.8" width="34" height="255" fill="#6b7677"/><rect x="583.3" y="142.3" width="40.2" height="12.6" fill="#9aa8a9"/><rect x="709.8" y="142.3" width="40.2" height="12.6" fill="#9aa8a9"/><rect x="583.3" y="171.6" width="40.2" height="12.6" fill="#9aa8a9"/><rect x="709.8" y="171.6" width="40.2" height="12.6" fill="#9aa8a9"/><polygon points="589.2,154.9 623.4,154.9 623.4,163.9" fill="#5d6869"/><polygon points="710,154.9 744,154.9 710,163.9" fill="#566162"/><rect x="583.3" y="200.9" width="40.2" height="12.6" fill="#9aa8a9"/><rect x="709.8" y="200.9" width="40.2" height="12.6" fill="#9aa8a9"/><polygon points="589.2,184.2 623.4,184.2 623.4,193.2" fill="#5d6869"/><polygon points="710,184.2 744,184.2 710,193.2" fill="#566162"/><rect x="583.3" y="230.2" width="40.2" height="12.6" fill="#9aa8a9"/><rect x="709.8" y="230.2" width="40.2" height="12.6" fill="#9aa8a9"/><polygon points="589.2,213.5 623.4,213.5 623.4,222.5" fill="#5d6869"/><polygon points="710,213.5 744,213.5 710,222.5" fill="#566162"/><rect x="583.3" y="259.5" width="40.2" height="12.6" fill="#9aa8a9"/><rect x="709.8" y="259.5" width="40.2" height="12.6" fill="#9aa8a9"/><polygon points="589.2,242.8 623.4,242.8 623.4,251.8" fill="#5d6869"/><polygon points="710,242.8 744,242.8 710,251.8" fill="#566162"/><rect x="583.3" y="288.8" width="40.2" height="12.6" fill="#9aa8a9"/><rect x="709.8" y="288.8" width="40.2" height="12.6" fill="#9aa8a9"/><polygon points="589.2,272.1 623.4,272.1 623.4,281.1" fill="#5d6869"/><polygon points="710,272.1 744,272.1 710,281.1" fill="#566162"/><rect x="583.3" y="318.1" width="40.2" height="12.6" fill="#9aa8a9"/><rect x="709.8" y="318.1" width="40.2" height="12.6" fill="#9aa8a9"/><polygon points="589.2,301.4 623.4,301.4 623.4,310.4" fill="#5d6869"/><polygon points="710,301.4 744,301.4 710,310.4" fill="#566162"/><rect x="583.3" y="347.4" width="40.2" height="12.6" fill="#9aa8a9"/><rect x="709.8" y="347.4" width="40.2" height="12.6" fill="#9aa8a9"/><polygon points="589.2,330.7 623.4,330.7 623.4,339.7" fill="#5d6869"/><polygon points="710,330.7 744,330.7 710,339.7" fill="#566162"/><polygon points="589.2,360 623.4,360 623.4,369" fill="#5d6869"/><polygon points="710,360 744,360 710,369" fill="#566162"/><polygon points="605.2,119.3 637,119.3 637,386 623.3,386 623.3,130.8 598,130.8" fill="#9aa8a9"/><polygon points="727.6,119.3 696,119.3 696,386 710,386 710,130.8 734.8,130.8" fill="#9aa8a9"/><rect x="636.4" y="119.3" width="60.3" height="266.7" fill="#565e5f"/><rect x="666.5" y="119.3" width="30.2" height="266.7" fill="#4a5253"/><rect x="639.6" y="127.3" width="53.6" height="34.8" fill="#d6ecf0"/><rect x="666.5" y="127.3" width="26.7" height="34.8" fill="#c9dde0"/><rect x="660.9" y="172.4" width="11.5" height="208" fill="#2996d2"/><rect x="643.1" y="192.9" width="11.3" height="167.2" fill="#2996d2"/><rect x="678.8" y="192.9" width="11.5" height="167.2" fill="#2996d2"/><rect x="570" y="385.7" width="193.1" height="12.8" fill="#9aa8a9"/><rect x="575.6" y="398.5" width="181.6" height="50.3" fill="#5d6768"/><polygon points="575.6,409 600,409 628,415 628,448.8 575.6,448.8" fill="#6b7677"/><polygon points="704.7,432 757.2,443 757.2,448.8 704.7,448.8" fill="#6b7677"/><clipPath id="gc9"><rect x="628" y="408" width="76.7" height="40.8"/></clipPath><rect x="628" y="408" width="76.7" height="40.8" fill="#414a4b"/><g clip-path="url(#gc9)" fill="#5d6768" opacity="1"><polygon points="629.53,448.8 635.67,448.8 647.91,408 641.77,408"/><polygon points="660.21,448.8 664.82,448.8 677.06,408 672.45,408"/><polygon points="692.43,448.8 700.1,448.8 712.34,408 704.67,408"/></g><rect x="665.5" y="408" width="1.4" height="40.8" fill="#1f2526"/><circle cx="662" cy="433" r="1.6" fill="#1f2526"/><circle cx="671" cy="433" r="1.6" fill="#1f2526"/><rect x="570" y="448.7" width="193.1" height="7.4" fill="#9aa8a9"/><rect x="564" y="456" width="205.2" height="9.3" fill="#869495"/></g><g><rect x="800" y="6.3" width="131" height="2" fill="#c3dde0"/><rect x="787.3" y="8" width="155.7" height="457.2" fill="#c9e8eb"/><rect x="865.3" y="8" width="77.7" height="457.2" fill="#bbdadd"/><rect x="937.5" y="8" width="5.5" height="457.2" fill="#b7d6d9"/><rect x="798" y="46" width="134" height="345.5" fill="#b8eefc"/><rect x="799" y="46.9" width="18.8" height="19.4" fill="#1e7fac"/><rect x="821.68" y="46.9" width="18.8" height="19.4" fill="#1e7fac"/><rect x="844.36" y="46.9" width="18.8" height="19.4" fill="#1e7fac"/><rect x="867.04" y="46.9" width="18.8" height="19.4" fill="#1b739d"/><rect x="889.72" y="46.9" width="18.8" height="19.4" fill="#1b739d"/><rect x="912.4" y="46.9" width="18.8" height="19.4" fill="#1b739d"/><rect x="799" y="70.1" width="18.8" height="19.4" fill="#1e7fac"/><rect x="821.68" y="70.1" width="18.8" height="19.4" fill="#1e7fac"/><rect x="844.36" y="70.1" width="18.8" height="19.4" fill="#1e7fac"/><rect x="867.04" y="70.1" width="18.8" height="19.4" fill="#1b739d"/><rect x="889.72" y="70.1" width="18.8" height="19.4" fill="#1b739d"/><rect x="912.4" y="70.1" width="18.8" height="19.4" fill="#1b739d"/><rect x="799" y="93.3" width="18.8" height="19.4" fill="#1e7fac"/><rect x="821.68" y="93.3" width="18.8" height="19.4" fill="#1e7fac"/><rect x="844.36" y="93.3" width="18.8" height="19.4" fill="#1e7fac"/><rect x="867.04" y="93.3" width="18.8" height="19.4" fill="#1b739d"/><rect x="889.72" y="93.3" width="18.8" height="19.4" fill="#1b739d"/><rect x="912.4" y="93.3" width="18.8" height="19.4" fill="#1b739d"/><rect x="799" y="116.5" width="18.8" height="19.4" fill="#1e7fac"/><rect x="821.68" y="116.5" width="18.8" height="19.4" fill="#1e7fac"/><rect x="844.36" y="116.5" width="18.8" height="19.4" fill="#1e7fac"/><rect x="867.04" y="116.5" width="18.8" height="19.4" fill="#1b739d"/><rect x="889.72" y="116.5" width="18.8" height="19.4" fill="#1b739d"/><rect x="912.4" y="116.5" width="18.8" height="19.4" fill="#1b739d"/><rect x="799" y="139.7" width="18.8" height="19.4" fill="#1e7fac"/><rect x="821.68" y="139.7" width="18.8" height="19.4" fill="#1e7fac"/><rect x="844.36" y="139.7" width="18.8" height="19.4" fill="#1e7fac"/><rect x="867.04" y="139.7" width="18.8" height="19.4" fill="#1b739d"/><rect x="889.72" y="139.7" width="18.8" height="19.4" fill="#1b739d"/><rect x="912.4" y="139.7" width="18.8" height="19.4" fill="#1b739d"/><rect x="799" y="162.9" width="18.8" height="19.4" fill="#1e7fac"/><rect x="821.68" y="162.9" width="18.8" height="19.4" fill="#1e7fac"/><rect x="844.36" y="162.9" width="18.8" height="19.4" fill="#1e7fac"/><rect x="867.04" y="162.9" width="18.8" height="19.4" fill="#1b739d"/><rect x="889.72" y="162.9" width="18.8" height="19.4" fill="#1b739d"/><rect x="912.4" y="162.9" width="18.8" height="19.4" fill="#1b739d"/><rect x="799" y="186.1" width="18.8" height="19.4" fill="#1e7fac"/><rect x="821.68" y="186.1" width="18.8" height="19.4" fill="#1e7fac"/><rect x="844.36" y="186.1" width="18.8" height="19.4" fill="#1e7fac"/><rect x="867.04" y="186.1" width="18.8" height="19.4" fill="#1b739d"/><rect x="889.72" y="186.1" width="18.8" height="19.4" fill="#1b739d"/><rect x="912.4" y="186.1" width="18.8" height="19.4" fill="#1b739d"/><rect x="799" y="209.3" width="18.8" height="19.4" fill="#1e7fac"/><rect x="821.68" y="209.3" width="18.8" height="19.4" fill="#1e7fac"/><rect x="844.36" y="209.3" width="18.8" height="19.4" fill="#1e7fac"/><rect x="867.04" y="209.3" width="18.8" height="19.4" fill="#1b739d"/><rect x="889.72" y="209.3" width="18.8" height="19.4" fill="#1b739d"/><rect x="912.4" y="209.3" width="18.8" height="19.4" fill="#1b739d"/><rect x="799" y="232.5" width="18.8" height="19.4" fill="#1e7fac"/><rect x="821.68" y="232.5" width="18.8" height="19.4" fill="#1e7fac"/><rect x="844.36" y="232.5" width="18.8" height="19.4" fill="#1e7fac"/><rect x="867.04" y="232.5" width="18.8" height="19.4" fill="#1b739d"/><rect x="889.72" y="232.5" width="18.8" height="19.4" fill="#1b739d"/><rect x="912.4" y="232.5" width="18.8" height="19.4" fill="#1b739d"/><rect x="799" y="255.7" width="18.8" height="19.4" fill="#1e7fac"/><rect x="821.68" y="255.7" width="18.8" height="19.4" fill="#1e7fac"/><rect x="844.36" y="255.7" width="18.8" height="19.4" fill="#1e7fac"/><rect x="867.04" y="255.7" width="18.8" height="19.4" fill="#1b739d"/><rect x="889.72" y="255.7" width="18.8" height="19.4" fill="#1b739d"/><rect x="912.4" y="255.7" width="18.8" height="19.4" fill="#1b739d"/><rect x="799" y="278.9" width="18.8" height="19.4" fill="#1e7fac"/><rect x="821.68" y="278.9" width="18.8" height="19.4" fill="#1e7fac"/><rect x="844.36" y="278.9" width="18.8" height="19.4" fill="#1e7fac"/><rect x="867.04" y="278.9" width="18.8" height="19.4" fill="#1b739d"/><rect x="889.72" y="278.9" width="18.8" height="19.4" fill="#1b739d"/><rect x="912.4" y="278.9" width="18.8" height="19.4" fill="#1b739d"/><rect x="799" y="302.1" width="18.8" height="19.4" fill="#1e7fac"/><rect x="821.68" y="302.1" width="18.8" height="19.4" fill="#1e7fac"/><rect x="844.36" y="302.1" width="18.8" height="19.4" fill="#1e7fac"/><rect x="867.04" y="302.1" width="18.8" height="19.4" fill="#1b739d"/><rect x="889.72" y="302.1" width="18.8" height="19.4" fill="#1b739d"/><rect x="912.4" y="302.1" width="18.8" height="19.4" fill="#1b739d"/><rect x="799" y="325.3" width="18.8" height="19.4" fill="#1e7fac"/><rect x="821.68" y="325.3" width="18.8" height="19.4" fill="#1e7fac"/><rect x="844.36" y="325.3" width="18.8" height="19.4" fill="#1e7fac"/><rect x="867.04" y="325.3" width="18.8" height="19.4" fill="#1b739d"/><rect x="889.72" y="325.3" width="18.8" height="19.4" fill="#1b739d"/><rect x="912.4" y="325.3" width="18.8" height="19.4" fill="#1b739d"/><rect x="799" y="348.5" width="18.8" height="19.4" fill="#1e7fac"/><rect x="821.68" y="348.5" width="18.8" height="19.4" fill="#1e7fac"/><rect x="844.36" y="348.5" width="18.8" height="19.4" fill="#1e7fac"/><rect x="867.04" y="348.5" width="18.8" height="19.4" fill="#1b739d"/><rect x="889.72" y="348.5" width="18.8" height="19.4" fill="#1b739d"/><rect x="912.4" y="348.5" width="18.8" height="19.4" fill="#1b739d"/><rect x="799" y="371.7" width="18.8" height="19.4" fill="#1e7fac"/><rect x="821.68" y="371.7" width="18.8" height="19.4" fill="#1e7fac"/><rect x="844.36" y="371.7" width="18.8" height="19.4" fill="#1e7fac"/><rect x="867.04" y="371.7" width="18.8" height="19.4" fill="#1b739d"/><rect x="889.72" y="371.7" width="18.8" height="19.4" fill="#1b739d"/><rect x="912.4" y="371.7" width="18.8" height="19.4" fill="#1b739d"/><rect x="826.2" y="422.2" width="77.6" height="43" fill="#43a8d8"/><clipPath id="gc10"><rect x="826.9" y="422.8" width="76.3" height="42.4"/></clipPath><rect x="826.9" y="422.8" width="76.3" height="42.4" fill="#1f7fae"/><g clip-path="url(#gc10)" fill="#3b97c6" opacity="1"><polygon points="829.19,465.2 836.06,465.2 848.78,422.8 841.91,422.8"/><polygon points="857.42,465.2 859.71,465.2 872.43,422.8 870.14,422.8"/><polygon points="866.58,465.2 871.92,465.2 884.64,422.8 879.3,422.8"/><polygon points="890.23,465.2 897.86,465.2 910.58,422.8 902.95,422.8"/></g><rect x="864.3" y="422.8" width="1.5" height="42.4" fill="#17699a"/><circle cx="860.5" cy="447.5" r="1.7" fill="#125a87"/><circle cx="869.5" cy="447.5" r="1.7" fill="#125a87"/></g><g><polygon points="1323.6,145.5 1323.8,106 1326.3,106 1330.8,145.5" fill="#86973a"/><path d="M1324,217.5 L1324,145.3 L1348.8,145.3 C1368,158 1383,185 1386,217.5 Z" fill="#c3d7dc"/><polygon points="1329.6,163.5 1356.6,163.5 1359.6,168.3 1329.6,168.3" fill="#86973a"/><polygon points="1329.6,177.2 1364.5,177.2 1367.5,182 1329.6,182" fill="#86973a"/><polygon points="1329.6,191.1 1370,191.1 1373,195.9 1329.6,195.9" fill="#86973a"/><polygon points="1329.6,204.8 1373,204.8 1376,209.6 1329.6,209.6" fill="#86973a"/><rect x="1324" y="217.3" width="72.8" height="34.5" fill="#c3d7dc"/><rect x="1324" y="217.3" width="72.8" height="5.2" fill="#a9bfc5"/><rect x="1324" y="222.5" width="72.8" height="2.6" fill="#a3b56a"/><rect x="1324" y="226.6" width="72.8" height="3.2" fill="#9aad52"/><rect x="1324" y="230.7" width="72.8" height="17.3" fill="#86973a"/><rect x="1324" y="248" width="72.8" height="3.6" fill="#b3c7b4"/><rect x="1324" y="251.6" width="105.7" height="216.9" fill="#c3d7dc"/><rect x="1332.6" y="269" width="88.3" height="156.5" fill="#dfe6b8"/><clipPath id="gdk"><polygon points="1421,282 1409,300 1392,322 1372,352 1352,392 1332,430 1421,430"/></clipPath><g fill="#9bae40"><rect x="1333.2" y="269.6" width="12.5" height="24"/><rect x="1348.16" y="269.6" width="12.5" height="24"/><rect x="1363.12" y="269.6" width="12.5" height="24"/><rect x="1378.08" y="269.6" width="12.5" height="24"/><rect x="1393.04" y="269.6" width="12.5" height="24"/><rect x="1408" y="269.6" width="12.5" height="24"/><rect x="1333.2" y="295.8" width="12.5" height="24"/><rect x="1348.16" y="295.8" width="12.5" height="24"/><rect x="1363.12" y="295.8" width="12.5" height="24"/><rect x="1378.08" y="295.8" width="12.5" height="24"/><rect x="1393.04" y="295.8" width="12.5" height="24"/><rect x="1408" y="295.8" width="12.5" height="24"/><rect x="1333.2" y="322" width="12.5" height="24"/><rect x="1348.16" y="322" width="12.5" height="24"/><rect x="1363.12" y="322" width="12.5" height="24"/><rect x="1378.08" y="322" width="12.5" height="24"/><rect x="1393.04" y="322" width="12.5" height="24"/><rect x="1408" y="322" width="12.5" height="24"/><rect x="1333.2" y="348.2" width="12.5" height="24"/><rect x="1348.16" y="348.2" width="12.5" height="24"/><rect x="1363.12" y="348.2" width="12.5" height="24"/><rect x="1378.08" y="348.2" width="12.5" height="24"/><rect x="1393.04" y="348.2" width="12.5" height="24"/><rect x="1408" y="348.2" width="12.5" height="24"/><rect x="1333.2" y="374.4" width="12.5" height="24"/><rect x="1348.16" y="374.4" width="12.5" height="24"/><rect x="1363.12" y="374.4" width="12.5" height="24"/><rect x="1378.08" y="374.4" width="12.5" height="24"/><rect x="1393.04" y="374.4" width="12.5" height="24"/><rect x="1408" y="374.4" width="12.5" height="24"/><rect x="1333.2" y="400.6" width="12.5" height="24"/><rect x="1348.16" y="400.6" width="12.5" height="24"/><rect x="1363.12" y="400.6" width="12.5" height="24"/><rect x="1378.08" y="400.6" width="12.5" height="24"/><rect x="1393.04" y="400.6" width="12.5" height="24"/><rect x="1408" y="400.6" width="12.5" height="24"/></g><g fill="#85973a" clip-path="url(#gdk)"><rect x="1333.2" y="269.6" width="12.5" height="24"/><rect x="1348.16" y="269.6" width="12.5" height="24"/><rect x="1363.12" y="269.6" width="12.5" height="24"/><rect x="1378.08" y="269.6" width="12.5" height="24"/><rect x="1393.04" y="269.6" width="12.5" height="24"/><rect x="1408" y="269.6" width="12.5" height="24"/><rect x="1333.2" y="295.8" width="12.5" height="24"/><rect x="1348.16" y="295.8" width="12.5" height="24"/><rect x="1363.12" y="295.8" width="12.5" height="24"/><rect x="1378.08" y="295.8" width="12.5" height="24"/><rect x="1393.04" y="295.8" width="12.5" height="24"/><rect x="1408" y="295.8" width="12.5" height="24"/><rect x="1333.2" y="322" width="12.5" height="24"/><rect x="1348.16" y="322" width="12.5" height="24"/><rect x="1363.12" y="322" width="12.5" height="24"/><rect x="1378.08" y="322" width="12.5" height="24"/><rect x="1393.04" y="322" width="12.5" height="24"/><rect x="1408" y="322" width="12.5" height="24"/><rect x="1333.2" y="348.2" width="12.5" height="24"/><rect x="1348.16" y="348.2" width="12.5" height="24"/><rect x="1363.12" y="348.2" width="12.5" height="24"/><rect x="1378.08" y="348.2" width="12.5" height="24"/><rect x="1393.04" y="348.2" width="12.5" height="24"/><rect x="1408" y="348.2" width="12.5" height="24"/><rect x="1333.2" y="374.4" width="12.5" height="24"/><rect x="1348.16" y="374.4" width="12.5" height="24"/><rect x="1363.12" y="374.4" width="12.5" height="24"/><rect x="1378.08" y="374.4" width="12.5" height="24"/><rect x="1393.04" y="374.4" width="12.5" height="24"/><rect x="1408" y="374.4" width="12.5" height="24"/><rect x="1333.2" y="400.6" width="12.5" height="24"/><rect x="1348.16" y="400.6" width="12.5" height="24"/><rect x="1363.12" y="400.6" width="12.5" height="24"/><rect x="1378.08" y="400.6" width="12.5" height="24"/><rect x="1393.04" y="400.6" width="12.5" height="24"/><rect x="1408" y="400.6" width="12.5" height="24"/></g></g><g><rect x="976" y="289.6" width="362.5" height="13.5" fill="#adc5ca"/><rect x="964" y="302.9" width="386.7" height="165.9" fill="#d6ecf0"/><rect x="980" y="345.4" width="354.3" height="123.4" fill="#cbf2fb"/><rect x="981.1" y="346.4" width="13.3" height="49.5" fill="#0b5878"/><rect x="981.1" y="395.7" width="13.3" height="39.2" fill="#0a4a66"/><rect x="981.1" y="440.8" width="13.3" height="28" fill="#0a4a66"/><rect x="998.9" y="346.4" width="15.5" height="49.5" fill="#0b5878"/><rect x="998.9" y="395.7" width="15.5" height="39.2" fill="#0a4a66"/><rect x="998.9" y="440.8" width="15.5" height="28" fill="#0a4a66"/><rect x="1018.96" y="346.4" width="15.5" height="49.5" fill="#0b5878"/><rect x="1018.96" y="395.7" width="15.5" height="39.2" fill="#0a4a66"/><rect x="1018.96" y="440.8" width="15.5" height="28" fill="#0a4a66"/><rect x="1039.02" y="346.4" width="15.5" height="49.5" fill="#0b5878"/><rect x="1039.02" y="395.7" width="15.5" height="39.2" fill="#0a4a66"/><rect x="1039.02" y="440.8" width="15.5" height="28" fill="#0a4a66"/><rect x="1059.08" y="346.4" width="15.5" height="49.5" fill="#0b5878"/><rect x="1059.08" y="395.7" width="15.5" height="39.2" fill="#0a4a66"/><rect x="1059.08" y="440.8" width="15.5" height="28" fill="#0a4a66"/><rect x="1079.14" y="346.4" width="15.5" height="49.5" fill="#0b5878"/><rect x="1079.14" y="395.7" width="15.5" height="39.2" fill="#0a4a66"/><rect x="1079.14" y="440.8" width="15.5" height="28" fill="#0a4a66"/><rect x="1099.2" y="346.4" width="15.5" height="49.5" fill="#0b5878"/><rect x="1099.2" y="395.7" width="15.5" height="39.2" fill="#0a4a66"/><rect x="1099.2" y="440.8" width="15.5" height="28" fill="#0a4a66"/><rect x="1119.26" y="346.4" width="15.5" height="49.5" fill="#0b5878"/><rect x="1119.26" y="395.7" width="15.5" height="39.2" fill="#0a4a66"/><rect x="1119.26" y="440.8" width="15.5" height="28" fill="#0a4a66"/><rect x="1139.32" y="346.4" width="15.5" height="49.5" fill="#0b5878"/><rect x="1139.32" y="395.7" width="15.5" height="39.2" fill="#0a4a66"/><rect x="1139.32" y="440.8" width="15.5" height="28" fill="#0a4a66"/><rect x="1159.38" y="346.4" width="15.5" height="49.5" fill="#0b5878"/><rect x="1159.38" y="395.7" width="15.5" height="39.2" fill="#0a4a66"/><rect x="1159.38" y="440.8" width="15.5" height="28" fill="#0a4a66"/><rect x="1179.44" y="346.4" width="15.5" height="49.5" fill="#0b5878"/><rect x="1179.44" y="395.7" width="15.5" height="39.2" fill="#0a4a66"/><rect x="1179.44" y="440.8" width="15.5" height="28" fill="#0a4a66"/><rect x="1199.5" y="346.4" width="15.5" height="49.5" fill="#0b5878"/><rect x="1199.5" y="395.7" width="15.5" height="39.2" fill="#0a4a66"/><rect x="1199.5" y="440.8" width="15.5" height="28" fill="#0a4a66"/><rect x="1219.56" y="346.4" width="15.5" height="49.5" fill="#0b5878"/><rect x="1219.56" y="395.7" width="15.5" height="39.2" fill="#0a4a66"/><rect x="1219.56" y="440.8" width="15.5" height="28" fill="#0a4a66"/><rect x="1239.62" y="346.4" width="15.5" height="49.5" fill="#0b5878"/><rect x="1239.62" y="395.7" width="15.5" height="39.2" fill="#0a4a66"/><rect x="1239.62" y="440.8" width="15.5" height="28" fill="#0a4a66"/><rect x="1259.68" y="346.4" width="15.5" height="49.5" fill="#0b5878"/><rect x="1259.68" y="395.7" width="15.5" height="39.2" fill="#0a4a66"/><rect x="1259.68" y="440.8" width="15.5" height="28" fill="#0a4a66"/><rect x="1279.74" y="346.4" width="15.5" height="49.5" fill="#0b5878"/><rect x="1279.74" y="395.7" width="15.5" height="39.2" fill="#0a4a66"/><rect x="1279.74" y="440.8" width="15.5" height="28" fill="#0a4a66"/><rect x="1299.8" y="346.4" width="15.5" height="49.5" fill="#0b5878"/><rect x="1299.8" y="395.7" width="15.5" height="39.2" fill="#0a4a66"/><rect x="1299.8" y="440.8" width="15.5" height="28" fill="#0a4a66"/><rect x="1319.9" y="346.4" width="13.3" height="49.5" fill="#0b5878"/><rect x="1319.9" y="395.7" width="13.3" height="39.2" fill="#0a4a66"/><rect x="1319.9" y="440.8" width="13.3" height="28" fill="#0a4a66"/></g><use href="#treeA"/><use href="#treeB"/><use href="#treeB" transform="translate(-66.62,165.07) scale(0.645)"/></g><g id="treeD"><use href="#treeA" x="1421.3"/></g>
<linearGradient id="rg" gradientUnits="userSpaceOnUse" x1="0" y1="466" x2="0" y2="930"><stop offset="0" stop-color="#fff" stop-opacity="0.1"/><stop offset="0.012" stop-color="#fff" stop-opacity="0.27"/><stop offset="0.16" stop-color="#fff" stop-opacity="0.24"/><stop offset="0.2" stop-color="#fff" stop-opacity="0.14"/><stop offset="0.6" stop-color="#fff" stop-opacity="0.08"/><stop offset="0.85" stop-color="#fff" stop-opacity="0.04"/><stop offset="1" stop-color="#fff" stop-opacity="0"/></linearGradient>
<mask id="rm" maskUnits="userSpaceOnUse" x="0" y="460" width="1500" height="480"><rect x="0" y="466" width="1500" height="470" fill="url(#rg)"/></mask>
<filter id="rough" filterUnits="userSpaceOnUse" x="0" y="460" width="1500" height="480" color-interpolation-filters="sRGB"><feColorMatrix in="SourceGraphic" type="matrix" values="1 0 0 0 0  0 1 0 0 0  0 0 1 0 0  -1.28 -4.29 -0.43 0 4.95" result="lm"/><feComposite in="SourceGraphic" in2="lm" operator="in" result="k"/><feTurbulence type="fractalNoise" baseFrequency="0.13 0.11" numOctaves="3" seed="11" result="n"/><feDisplacementMap in="k" in2="n" scale="6.5" xChannelSelector="R" yChannelSelector="G" result="d"/><feTurbulence type="turbulence" baseFrequency="0.5 0.4" numOctaves="1" seed="5" result="n3"/><feDisplacementMap in="d" in2="n3" scale="3" xChannelSelector="R" yChannelSelector="G" result="d2"/><feGaussianBlur in="d2" stdDeviation="1.1" result="b"/><feColorMatrix in="b" type="matrix" values="1 0 0 0 0  0 1 0 0 0  0 0 1 0 0  0 0 0 7 -2.2"/></filter>
</defs>
<rect width="1500" height="1660" fill="#fff"/>
<g mask="url(#rm)"><g filter="url(#rough)"><g transform="translate(0 933) scale(1.0105 -1)"><use href="#cityB"/><use href="#city"/></g><use href="#treeD" transform="translate(3 933) scale(1 -1)"/></g></g>
<use href="#cityB"/><use href="#city"/><use href="#treeD"/>
<g><rect x="278.3" y="545" width="1.7" height="1115" fill="#4d4d4d"/><rect x="280" y="545.8" width="977" height="53.7" fill="#da828b"/><rect x="280" y="605.76" width="678.84" height="53.7" fill="#da828b"/><rect x="280" y="665.72" width="445.85" height="53.7" fill="#da828b"/><rect x="280" y="725.68" width="403.48" height="53.7" fill="#da828b"/><rect x="280" y="785.64" width="325.29" height="53.7" fill="#da828b"/><rect x="280" y="845.6" width="316.05" height="53.7" fill="#da828b"/><rect x="280" y="905.56" width="236.33" height="53.7" fill="#da828b"/><rect x="280" y="965.52" width="218.93" height="53.7" fill="#da828b"/><rect x="280" y="1025.48" width="193.59" height="53.7" fill="#da828b"/><rect x="280" y="1085.44" width="191.11" height="53.7" fill="#da828b"/><rect x="280" y="1145.4" width="145.6" height="53.7" fill="#da828b"/><rect x="280" y="1205.36" width="134.89" height="53.7" fill="#da828b"/><rect x="280" y="1265.32" width="124.7" height="53.7" fill="#da828b"/><rect x="280" y="1325.28" width="122.37" height="53.7" fill="#da828b"/><rect x="280" y="1385.24" width="121.18" height="53.7" fill="#da828b"/><rect x="280" y="1445.2" width="88.44" height="53.7" fill="#da828b"/><rect x="280" y="1505.16" width="73.66" height="53.7" fill="#da828b"/><rect x="280" y="1565.12" width="72.92" height="53.7" fill="#da828b"/><rect x="280" y="1625.08" width="68.87" height="53.7" fill="#da828b"/></g><g font-family="'Liberation Sans', sans-serif" font-style="italic"><text transform="translate(14.58 586.8) scale(0.8194 1)" font-size="42.3" fill="#3d3d3d" stroke="#3d3d3d" stroke-width="0.7" stroke-linejoin="round">TP Hồ Chí Minh</text><text transform="translate(119.74 646.8) scale(0.8237 1)" font-size="42.3" fill="#3d3d3d" stroke="#3d3d3d" stroke-width="0.7" stroke-linejoin="round">Bắc Ninh</text><text transform="translate(153.75 706.8) scale(0.8122 1)" font-size="42.3" fill="#3d3d3d" stroke="#3d3d3d" stroke-width="0.7" stroke-linejoin="round">Hà Nội</text><text transform="translate(125.64 766.8) scale(0.8003 1)" font-size="42.3" fill="#3d3d3d" stroke="#3d3d3d" stroke-width="0.7" stroke-linejoin="round">Tây Ninh</text><text transform="translate(115.75 826.8) scale(0.8110 1)" font-size="42.3" fill="#3d3d3d" stroke="#3d3d3d" stroke-width="0.7" stroke-linejoin="round">Đồng Nai</text><text transform="translate(131.75 886.8) scale(0.8056 1)" font-size="42.3" fill="#3d3d3d" stroke="#3d3d3d" stroke-width="0.7" stroke-linejoin="round">Phú Thọ</text><text transform="translate(107.75 946.8) scale(0.8011 1)" font-size="42.3" fill="#3d3d3d" stroke="#3d3d3d" stroke-width="0.7" stroke-linejoin="round">Hưng Yên</text><text transform="translate(97.75 1006.8) scale(0.8188 1)" font-size="42.3" fill="#3d3d3d" stroke="#3d3d3d" stroke-width="0.7" stroke-linejoin="round">Hải Phòng</text><text transform="translate(101.55 1066.8) scale(0.8290 1)" font-size="42.3" fill="#3d3d3d" stroke="#3d3d3d" stroke-width="0.7" stroke-linejoin="round">Vĩnh Long</text><text transform="translate(134.75 1126.8) scale(0.7952 1)" font-size="42.3" fill="#3d3d3d" stroke="#3d3d3d" stroke-width="0.7" stroke-linejoin="round">Đắk Lắk</text><text transform="translate(126.75 1186.8) scale(0.7952 1)" font-size="42.3" fill="#3d3d3d" stroke="#3d3d3d" stroke-width="0.7" stroke-linejoin="round">Đà Nẵng</text><text transform="translate(126.75 1246.8) scale(0.8163 1)" font-size="42.3" fill="#3d3d3d" stroke="#3d3d3d" stroke-width="0.7" stroke-linejoin="round">Nghệ An</text><text transform="translate(64.58 1306.8) scale(0.8195 1)" font-size="42.3" fill="#3d3d3d" stroke="#3d3d3d" stroke-width="0.7" stroke-linejoin="round">Thái Nguyên</text><text transform="translate(108.74 1366.8) scale(0.8203 1)" font-size="42.3" fill="#3d3d3d" stroke="#3d3d3d" stroke-width="0.7" stroke-linejoin="round">Ninh Bình</text><text transform="translate(109.67 1426.8) scale(0.8170 1)" font-size="42.3" fill="#3d3d3d" stroke="#3d3d3d" stroke-width="0.7" stroke-linejoin="round">Quảng Trị</text><text transform="translate(76.67 1486.8) scale(0.8170 1)" font-size="42.3" fill="#3d3d3d" stroke="#3d3d3d" stroke-width="0.7" stroke-linejoin="round">Quảng Ninh</text><text transform="translate(130.71 1546.8) scale(0.7897 1)" font-size="42.3" fill="#3d3d3d" stroke="#3d3d3d" stroke-width="0.7" stroke-linejoin="round">Cần Thơ</text><text transform="translate(99.75 1606.8) scale(0.8185 1)" font-size="42.3" fill="#3d3d3d" stroke="#3d3d3d" stroke-width="0.7" stroke-linejoin="round">Lâm Đồng</text><text transform="translate(90.75 1666.8) scale(0.8114 1)" font-size="42.3" fill="#3d3d3d" stroke="#3d3d3d" stroke-width="0.7" stroke-linejoin="round">Đồng Tháp</text><text transform="translate(1340.2 638) scale(0.8199 1)" font-size="42.3" fill="#a8202d" stroke="#a8202d" stroke-width="0.7" stroke-linejoin="round">căn</text></g><g font-family="'Liberation Sans', sans-serif" font-weight="bold"><text transform="translate(1267.02 584.5) scale(0.8331 1)" font-size="42.9" fill="#b01f2d" stroke="#b01f2d" stroke-width="0.6" stroke-linejoin="round" letter-spacing="1.6">194.297</text><text transform="translate(968.87 644.46) scale(0.8296 1)" font-size="42.9" fill="#b01f2d" stroke="#b01f2d" stroke-width="0.6" stroke-linejoin="round" letter-spacing="1.6">135.002</text><text transform="translate(735.28 704.42) scale(0.8369 1)" font-size="42.9" fill="#b01f2d" stroke="#b01f2d" stroke-width="0.6" stroke-linejoin="round" letter-spacing="1.6">88.666</text><text transform="translate(692.9 764.38) scale(0.8410 1)" font-size="42.9" fill="#b01f2d" stroke="#b01f2d" stroke-width="0.6" stroke-linejoin="round" letter-spacing="1.6">80.240</text><text transform="translate(614.71 824.34) scale(0.8410 1)" font-size="42.9" fill="#b01f2d" stroke="#b01f2d" stroke-width="0.6" stroke-linejoin="round" letter-spacing="1.6">64.690</text><text transform="translate(605.48 884.3) scale(0.8369 1)" font-size="42.9" fill="#b01f2d" stroke="#b01f2d" stroke-width="0.6" stroke-linejoin="round" letter-spacing="1.6">62.853</text><text transform="translate(526.88 944.26) scale(0.8329 1)" font-size="42.9" fill="#b01f2d" stroke="#b01f2d" stroke-width="0.6" stroke-linejoin="round" letter-spacing="1.6">47.000</text><text transform="translate(509.48 1004.22) scale(0.8289 1)" font-size="42.9" fill="#b01f2d" stroke="#b01f2d" stroke-width="0.6" stroke-linejoin="round" letter-spacing="1.6">43.539</text><text transform="translate(483.58 1064.18) scale(0.8369 1)" font-size="42.9" fill="#b01f2d" stroke="#b01f2d" stroke-width="0.6" stroke-linejoin="round" letter-spacing="1.6">38.500</text><text transform="translate(481.1 1124.14) scale(0.8369 1)" font-size="42.9" fill="#b01f2d" stroke="#b01f2d" stroke-width="0.6" stroke-linejoin="round" letter-spacing="1.6">38.007</text><text transform="translate(435.03 1184.1) scale(0.8369 1)" font-size="42.9" fill="#b01f2d" stroke="#b01f2d" stroke-width="0.6" stroke-linejoin="round" letter-spacing="1.6">28.955</text><text transform="translate(424.32 1244.06) scale(0.8369 1)" font-size="42.9" fill="#b01f2d" stroke="#b01f2d" stroke-width="0.6" stroke-linejoin="round" letter-spacing="1.6">26.825</text><text transform="translate(414.13 1304.02) scale(0.8410 1)" font-size="42.9" fill="#b01f2d" stroke="#b01f2d" stroke-width="0.6" stroke-linejoin="round" letter-spacing="1.6">24.800</text><text transform="translate(411.8 1363.98) scale(0.8369 1)" font-size="42.9" fill="#b01f2d" stroke="#b01f2d" stroke-width="0.6" stroke-linejoin="round" letter-spacing="1.6">24.336</text><text transform="translate(410.61 1423.94) scale(0.8410 1)" font-size="42.9" fill="#b01f2d" stroke="#b01f2d" stroke-width="0.6" stroke-linejoin="round" letter-spacing="1.6">24.100</text><text transform="translate(378.46 1483.9) scale(0.8305 1)" font-size="42.9" fill="#b01f2d" stroke="#b01f2d" stroke-width="0.6" stroke-linejoin="round" letter-spacing="1.6">17.588</text><text transform="translate(363.68 1543.86) scale(0.8305 1)" font-size="42.9" fill="#b01f2d" stroke="#b01f2d" stroke-width="0.6" stroke-linejoin="round" letter-spacing="1.6">14.648</text><text transform="translate(362.94 1603.82) scale(0.8305 1)" font-size="42.9" fill="#b01f2d" stroke="#b01f2d" stroke-width="0.6" stroke-linejoin="round" letter-spacing="1.6">14.502</text><text transform="translate(358.89 1663.78) scale(0.8346 1)" font-size="42.9" fill="#b01f2d" stroke="#b01f2d" stroke-width="0.6" stroke-linejoin="round" letter-spacing="1.6">13.697</text></g>
<g font-family="'Liberation Sans', sans-serif" fill="#c0212e"><text transform="translate(898.28 1232.9) scale(0.8183 1)" font-size="76" fill="#c0212e" stroke="#c0212e" stroke-width="1.2" stroke-linejoin="round">CHỈ TIÊU</text><text transform="translate(710.2 1385.8) scale(0.8043 1)" font-size="113.4" fill="#be1e2d" stroke="#be1e2d" stroke-width="1.5" stroke-linejoin="round" font-weight="bold">NHÀ Ở XÃ HỘI</text><text transform="translate(684.72 1513.7) scale(0.8109 1)" font-size="75.5" fill="#c0212e" stroke="#c0212e" stroke-width="1.2" stroke-linejoin="round">CỦA CÁC ĐỊA PHƯƠNG</text><text transform="translate(714.29 1624.7) scale(0.8204 1)" font-size="75.5" fill="#c0212e" stroke="#c0212e" stroke-width="1.2" stroke-linejoin="round">GIAI ĐOẠN 2025-2030</text></g>
<g font-family="'Liberation Sans', sans-serif" font-weight="bold" style="pointer-events:none"><g opacity="0.5" fill="#f3f3f3" stroke="#f3f3f3" stroke-width="2.4" stroke-linejoin="round"><text transform="translate(86 1247) rotate(-44)" font-size="44" textLength="346" lengthAdjust="spacing">INFOGRAPHICS</text><text transform="translate(729 1363) rotate(-44)" font-size="44" textLength="346" lengthAdjust="spacing">INFOGRAPHICS</text><text transform="translate(1109 1724) rotate(-44)" font-size="44" textLength="346" lengthAdjust="spacing">INFOGRAPHICS</text></g><g opacity="0.5" fill="none" stroke="#f1f1f1" stroke-width="3.2" stroke-linejoin="miter"><text transform="translate(209 1499) rotate(-43)" font-size="76" textLength="508" lengthAdjust="spacing">TTXVN – VNA</text><text transform="translate(1108 1332) rotate(-43)" font-size="76" textLength="508" lengthAdjust="spacing">TTXVN – VNA</text><text transform="translate(587 1874) rotate(-43)" font-size="76" textLength="508" lengthAdjust="spacing">TTXVN – VNA</text></g></g>
<rect x="0" y="0" width="1500" height="6.2" fill="#dd838b"/><rect x="0" y="0" width="6.4" height="1660" fill="#dd838b"/><rect x="1493.5" y="0" width="6.5" height="1660" fill="#dd838b"/>
</svg>
</body>
</html>
